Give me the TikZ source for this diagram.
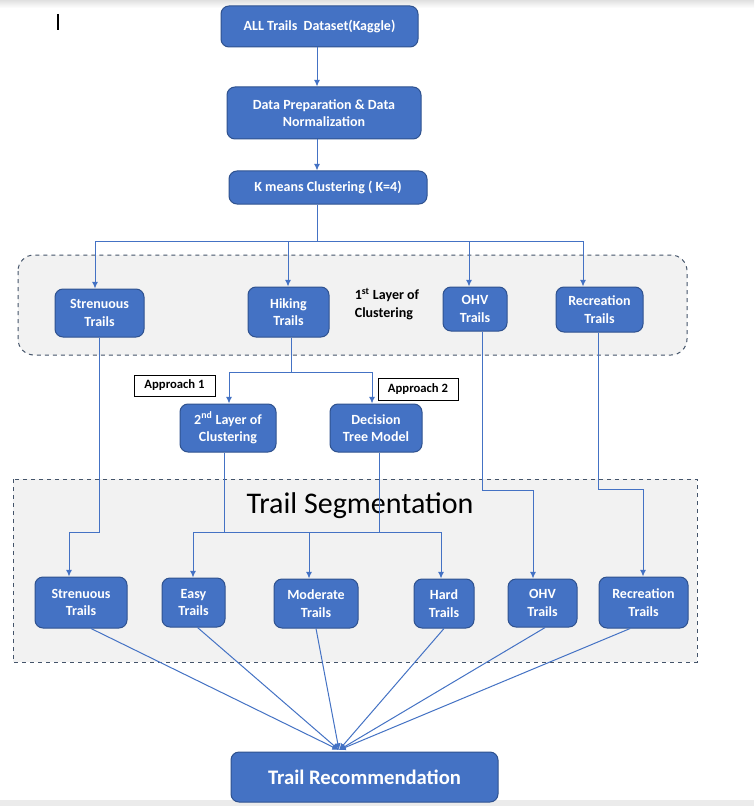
\documentclass[tikz,border=0pt]{standalone}
\usepackage{fontspec}
\setmainfont{Carlito}
\usetikzlibrary{arrows.meta}
\definecolor{bfill}{HTML}{4472C4}
\definecolor{bdraw}{HTML}{2F528F}
\definecolor{lgray}{HTML}{F2F2F2}
\definecolor{dgray}{HTML}{44546A}
\tikzset{
 px/.style={x=0.75pt,y=-0.75pt},
 sz/.style 2 args={minimum width={#1*0.75pt}, minimum height={#2*0.75pt}},
 box/.style={draw=bdraw, fill=bfill, line width=0.75pt, rounded corners=6pt, inner sep=0pt, text=white, font=\bfseries\fontsize{10.5}{13}\selectfont, align=center},
 conn/.style={draw=bfill, line width=0.75pt},
 arr/.style={conn, -{Latex[length=5pt,width=4.5pt]}},
 tag/.style={draw=black, fill=white, line width=0.6pt, inner sep=0pt, font=\bfseries\fontsize{9.5}{11}\selectfont},
 grp/.style={draw=dgray, fill=lgray, dashed, line width=0.75pt},
}
\begin{document}
\begin{tikzpicture}[px]
\useasboundingbox (0,0) rectangle (754,806);
\fill[white] (0,0) rectangle (754,806);
\shade[top color=black!12, bottom color=white] (0,0) rectangle (754,8);
\fill[black!8] (0,800) rectangle (754,806);
\draw[line width=1pt] (58,14) -- (58,30);

% groups
\draw[grp, rounded corners=12pt] (18,255) rectangle (687,355);
\draw[grp] (13,479) rectangle (697,662);

% top chain
\node[box, sz={197}{41}] (all) at (319.5,26.5) {ALL Trails\ \ Dataset(Kaggle)};
\node[box, sz={194}{52}] (prep) at (324,113) {Data Preparation \& Data\\Normalization};
\node[box, sz={198}{33}] (km) at (328,187.5) {K means Clustering ( K=4)};

% layer 1
\node[box, sz={89}{48}] (st1) at (99.5,313) {Strenuous\\Trails};
\node[box, sz={81}{50}] (hk1) at (288.5,312) {Hiking\\Trails};
\node[box, sz={64}{44}] (ohv1) at (475,309) {OHV\\Trails};
\node[box, sz={87}{45}] (rec1) at (599.5,309.5) {Recreation\\Trails};
\node[font=\bfseries\fontsize{10.5}{13}\selectfont, align=left] (lay1) at (387,304) {1\textsuperscript{st} Layer of\\Clustering};

% approaches
\node[tag, sz={81}{21}] (ap1) at (174.5,385.5) {Approach 1};
\node[tag, sz={80}{22}] (ap2) at (418,389) {Approach 2};
\node[box, sz={96}{48}] (l2) at (228,428) {2\textsuperscript{nd} Layer of\\Clustering};
\node[box, sz={92}{48}] (dt) at (376,428) {Decision\\Tree Model};

% segmentation
\node[font=\fontsize{22.5}{26}\selectfont] (seg) at (360,506) {Trail Segmentation};
\node[box, sz={92}{51}] (st2) at (81,602.5) {Strenuous\\Trails};
\node[box, sz={63}{49}] (easy) at (193.5,602.5) {Easy\\Trails};
\node[box, sz={84}{49}] (mod) at (316,603.5) {Moderate\\Trails};
\node[box, sz={60}{49}] (hard) at (444,603.5) {Hard\\Trails};
\node[box, sz={69}{48}] (ohv2) at (542.5,603) {OHV\\Trails};
\node[box, sz={89}{51}] (rec2) at (643.5,602.5) {Recreation\\Trails};
\node[box, sz={267}{50}, font=\bfseries\fontsize{15.5}{18}\selectfont] (rec) at (364.5,777) {Trail Recommendation};

% connectors top
\coordinate (kj) at (317,241);
\draw[arr] (all.south -| kj) -- (prep.north -| kj);
\draw[arr] (prep.south -| kj) -- (km.north -| kj);
\draw[conn] (km.south -| kj) -- (kj);
\coordinate (j1) at (95,241);
\coordinate (j2) at (288,241);
\coordinate (j3) at (469,241);
\coordinate (j4) at (583,241);
\draw[conn] (j1) -- (j4);
\draw[arr] (j1) -- (j1 |- st1.north);
\draw[arr] (j2) -- (j2 |- hk1.north);
\draw[arr] (j3) -- (j3 |- ohv1.north);
\draw[arr] (j4) -- (j4 |- rec1.north);

% hiking split
\coordinate (hj) at (291,372);
\coordinate (a1) at (229,372);
\coordinate (a2) at (372,372);
\draw[conn] (hk1.south -| hj) -- (hj);
\draw[conn] (a1) -- (a2);
\draw[arr] (a1) -- (a1 |- l2.north);
\draw[arr] (a2) -- (a2 |- dt.north);

% strenuous
\coordinate (s1) at (99,532);
\coordinate (s2) at (69,532);
\draw[arr] (st1.south -| s1) -- (s1) -- (s2) -- (s2 |- st2.north);

% segmentation of hiking
\coordinate (l2j) at (224,532);
\coordinate (dtj) at (379,532);
\coordinate (e1) at (193,532);
\coordinate (e2) at (309,532);
\coordinate (e3) at (441,532);
\draw[conn] (l2.south -| l2j) -- (l2j);
\draw[conn] (dt.south -| dtj) -- (dtj);
\draw[conn] (e1) -- (e3);
\draw[arr] (e1) -- (e1 |- easy.north);
\draw[arr] (e2) -- (e2 |- mod.north);
\draw[arr] (e3) -- (e3 |- hard.north);

% ohv
\coordinate (o1) at (482,490);
\coordinate (o2) at (533,490);
\draw[arr] (ohv1.south -| o1) -- (o1) -- (o2) -- (o2 |- ohv2.north);
% recreation
\coordinate (r1) at (598,489);
\coordinate (r2) at (643,489);
\draw[arr] (rec1.south -| r1) -- (r1) -- (r2) -- (r2 |- rec2.north);

% fan-in
\coordinate (fan) at (339,750);
\draw[arr] ([xshift=7.5pt]st2.south) -- (fan);
\draw[arr] ([xshift=3pt]easy.south) -- (fan);
\draw[arr] (mod.south) -- (fan);
\draw[arr] (hard.south) -- (fan);
\draw[arr] ([xshift=2pt]ohv2.south) -- (fan);
\draw[arr] ([xshift=-10pt]rec2.south) -- (fan);
\end{tikzpicture}
\end{document}
